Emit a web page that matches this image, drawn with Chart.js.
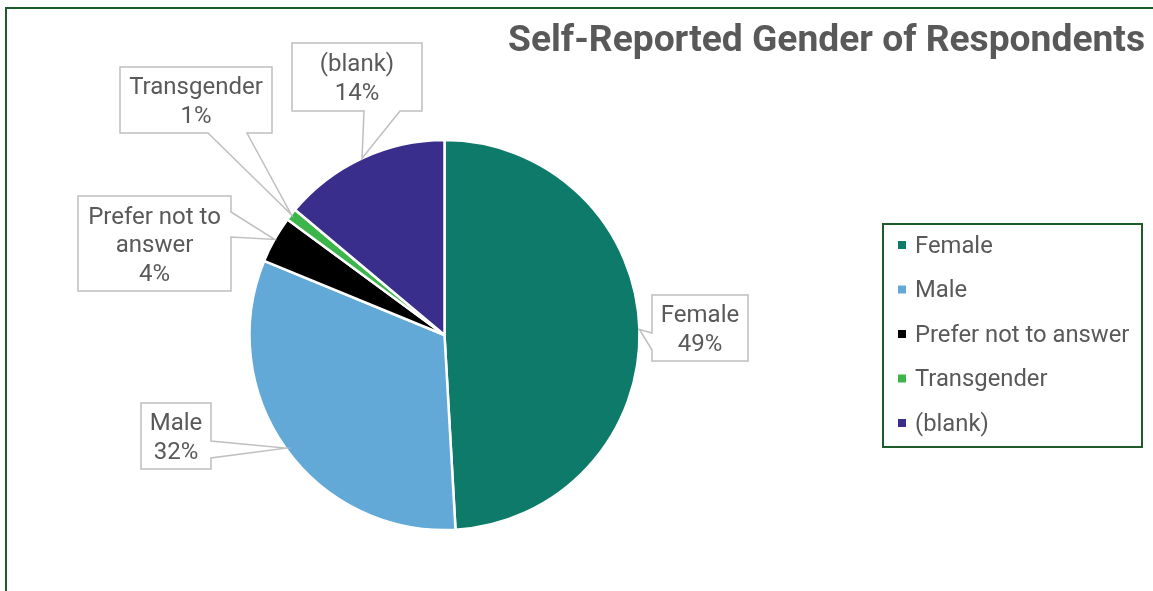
<!DOCTYPE html>
<html>
<head>
<meta charset="utf-8">
<title>Self-Reported Gender of Respondents</title>
<script src="https://cdn.jsdelivr.net/npm/chart.js@4"></script>
<style>
  html, body { margin: 0; padding: 0; background: #fff; }
  #wrap { width: 1153px; height: 591px; }
</style>
</head>
<body>
<div id="wrap"><canvas id="myChart" width="1153" height="591"></canvas></div>
<script>
const categorias = ['Female', 'Male', 'Prefer not to answer', 'Transgender', '(blank)']
const valores = [49.1, 32.1, 3.9, 1.0, 13.9]
const cores = ['#0d7a6a', '#62a9d8', '#000000', '#3cb54a', '#3a2e8d']
// texto das caixas de rótulo (quebra de linha manual como no original)
const textosRotulo = [['Female'], ['Male'], ['Prefer not to', 'answer'], ['Transgender'], ['(blank)']]

const titulo = 'Self-Reported Gender of Respondents'
const cinzaTexto = '#595959'
const verdeBorda = '#1f5c2b'

// caixas dos rótulos: posição, lado onde entra a "seta" e onde ela começa/termina
const caixas = [
    { x: 652, y: 295, w: 96, h: 66, lado: 'left', a: 333, b: 350 },
    { x: 141, y: 403, w: 70, h: 66, lado: 'right', a: 441, b: 458 },
    { x: 78, y: 196, w: 153, h: 95, lado: 'right', a: 212, b: 237 },
    { x: 120, y: 67, w: 152, h: 66, lado: 'bottom', a: 208, b: 247 },
    { x: 292, y: 43, w: 130, h: 68, lado: 'bottom', a: 364, b: 400 }
]

const fundoEMoldura = {
    id: 'fundoEMoldura',
    beforeDraw(chart) {
        const c = chart.ctx
        c.save()
        c.fillStyle = '#fff'
        c.fillRect(0, 0, chart.width, chart.height)
        c.strokeStyle = verdeBorda
        c.lineWidth = 2
        c.strokeRect(6, 8, chart.width + 20, chart.height + 20)
        c.restore()
    }
}

const rotulosELegenda = {
    id: 'rotulosELegenda',
    afterDraw(chart) {
        const c = chart.ctx
        const meta = chart.getDatasetMeta(0)
        const total = valores.reduce((s, v) => s + v, 0)

        // titulo
        c.save()
        c.fillStyle = cinzaTexto
        c.font = 'bold 37.2px Roboto'
        c.textAlign = 'right'
        c.textBaseline = 'alphabetic'
        c.fillText(titulo, 1145, 51)

        // rótulos com seta
        meta.data.forEach((arc, i) => {
            const cx = caixas[i]
            const meio = (arc.startAngle + arc.endAngle) / 2
            const px = arc.x + arc.outerRadius * Math.cos(meio)
            const py = arc.y + arc.outerRadius * Math.sin(meio)
            const x0 = cx.x, y0 = cx.y, x1 = cx.x + cx.w, y1 = cx.y + cx.h
            const pts = [[x0, y0]]
            if (cx.lado === 'top') pts.push([cx.a, y0], [px, py], [cx.b, y0])
            pts.push([x1, y0])
            if (cx.lado === 'right') pts.push([x1, cx.a], [px, py], [x1, cx.b])
            pts.push([x1, y1])
            if (cx.lado === 'bottom') pts.push([cx.b, y1], [px, py], [cx.a, y1])
            pts.push([x0, y1])
            if (cx.lado === 'left') pts.push([x0, cx.b], [px, py], [x0, cx.a])

            c.beginPath()
            pts.forEach((p, k) => k ? c.lineTo(p[0], p[1]) : c.moveTo(p[0], p[1]))
            c.closePath()
            c.fillStyle = '#fff'
            c.fill()
            c.strokeStyle = '#bfbfbf'
            c.lineWidth = 1.5
            c.stroke()

            const linhas = textosRotulo[i].concat([Math.round(valores[i] / total * 100) + '%'])
            c.fillStyle = cinzaTexto
            c.font = '24px Roboto'
            c.textAlign = 'center'
            c.textBaseline = 'middle'
            const alt = 28.5
            const topo = cx.y + cx.h / 2 - (linhas.length - 1) * alt / 2
            linhas.forEach((t, k) => c.fillText(t, cx.x + cx.w / 2, topo + k * alt + 2.5))
        })

        // legenda
        c.strokeStyle = verdeBorda
        c.lineWidth = 2
        c.strokeRect(883, 224, 259, 223)
        c.font = '23.8px Roboto'
        c.textAlign = 'left'
        c.textBaseline = 'middle'
        categorias.forEach((nome, i) => {
            const y = 245 + i * 44.5
            c.fillStyle = cores[i]
            c.fillRect(898, y - 4, 8, 8)
            c.fillStyle = cinzaTexto
            c.fillText(nome, 915, y + 2)
        })
        c.restore()
    }
}

const ctx = document.getElementById('myChart')

let grafico = new Chart(ctx, {
    type: 'pie',
    data: {
        labels: categorias,
        datasets: [{
            data: valores,
            backgroundColor: cores,
            borderColor: '#ffffff',
            borderWidth: 2.5,
            hoverOffset: 0
        }]
    },
    options: {
        responsive: false,
        animation: false,
        devicePixelRatio: 1,
        radius: 195,
        layout: {
            padding: { left: 250, right: 514, top: 140, bottom: 61 }
        },
        plugins: {
            legend: { display: false },
            tooltip: { enabled: false },
            title: { display: false }
        }
    },
    plugins: [fundoEMoldura, rotulosELegenda]
});
</script>
</body>
</html>
